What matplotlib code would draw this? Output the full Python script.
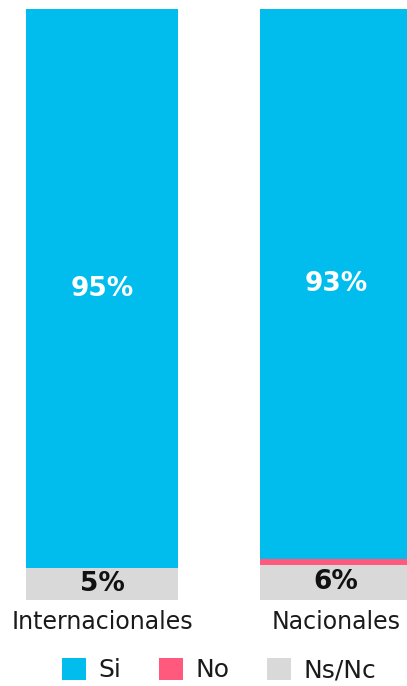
import matplotlib
matplotlib.use("Agg")
import matplotlib.pyplot as plt
import numpy as np

categories = ["Internacionales", "Nacionales"]
series_names = ["Si", "No", "Ns/Nc"]
si = [94.6, 93.0]
no = [0.0, 1.0]
nsnc = [5.4, 6.0]
colors = ["#00BDEE", "#FF5A7E", "#D9D9D9"]

plt.rcParams['font.family'] = ['DejaVu Sans']
fig = plt.figure(figsize=(4.07, 6.86), dpi=100)
ax = fig.add_axes([0, 86/686, 1, 591/686])
x = np.arange(len(categories))
w = 0.65
b_ns = ax.bar(x, nsnc, w, color=colors[2], label=series_names[2])
b_no = ax.bar(x, no, w, bottom=nsnc, color=colors[1], label=series_names[1])
bot_si = [a + b for a, b in zip(nsnc, no)]
b_si = ax.bar(x, si, w, bottom=bot_si, color=colors[0], label=series_names[0])

for i in range(len(categories)):
    ax.text(x[i], bot_si[i] + si[i] / 2, f"{round(si[i])}%", ha="center", va="center",
            color="white", fontsize=19, fontweight="bold")
    ax.text(x[i], nsnc[i] / 2, f"{round(nsnc[i])}%", ha="center", va="center",
            color="#111111", fontsize=19, fontweight="bold")

ax.set_xlim(-102/234, (407-102)/234)
ax.set_ylim(0, 100)
ax.axis("off")
for i, c in enumerate(categories):
    ax.text(x[i], -29/5.91, c, ha="center", va="baseline", fontsize=17, color="#1a1a1a")

fig.legend([b_si, b_no, b_ns], series_names, loc="center", bbox_to_anchor=(0.538, 16/686),
           ncol=3, frameon=False, fontsize=18, handlelength=0.96, handleheight=0.96,
           handletextpad=0.5, columnspacing=1.5, labelcolor="#1a1a1a",
           borderpad=0, borderaxespad=0)
fig.savefig("out.png", dpi=100)
